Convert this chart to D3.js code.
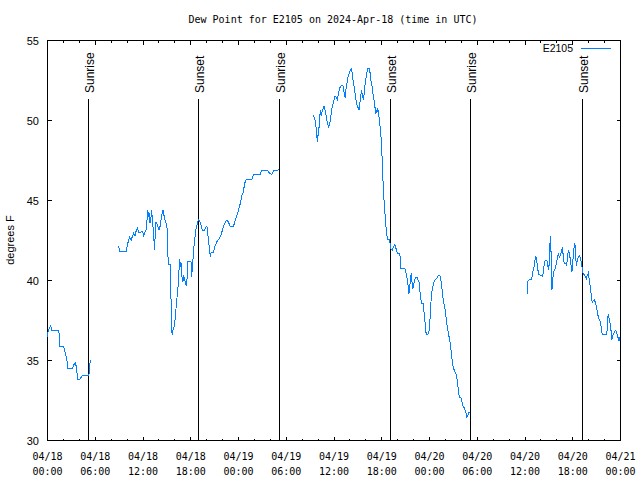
<!DOCTYPE html>
<html><head><meta charset="utf-8">
<script src="https://cdn.jsdelivr.net/npm/d3@7"></script>
<style>body{margin:0;background:#fff}svg{display:block}</style>
</head><body><svg id="c" width="640" height="480"></svg>
<script>
// hours since 2024-04-18 00:00 UTC; null marks a gap in the record
const hours = [
0.00,0.04,0.29,0.41,0.50,1.42,1.50,1.54,2.05,2.22,2.38,2.47,2.55,3.10,3.30,3.51,3.64,3.73,3.80,4.05,4.23,4.35,5.11,5.23,5.27,5.36,5.48,
7.0,
8.94,9.07,9.91,10.00,10.20,10.32,10.50,10.66,10.83,11.00,11.13,11.29,11.45,11.63,11.83,11.95,12.08,12.21,12.38,12.51,12.58,12.71,12.79,12.88,13.01,13.08,13.21,13.33,13.46,13.55,13.64,13.76,13.89,14.01,14.14,14.26,14.39,14.51,14.64,14.76,14.89,15.01,15.09,15.18,15.43,15.52,15.59,15.68,15.77,15.93,16.06,16.18,16.31,16.43,16.52,16.60,16.68,16.77,16.90,17.02,17.10,17.22,17.35,17.47,17.56,17.65,18.03,18.10,18.19,18.28,18.40,18.53,18.65,18.78,18.85,18.98,19.19,19.32,19.48,19.69,19.91,20.03,20.11,20.23,20.32,20.45,20.57,20.86,20.99,21.16,21.36,21.58,21.79,21.99,22.17,22.37,22.54,22.74,22.96,23.37,23.58,23.80,24.00,24.21,24.42,24.62,24.75,24.96,25.68,25.88,26.72,26.93,27.63,27.97,28.19,28.47,29.14,
31.0,
33.40,33.58,33.71,33.78,33.91,33.99,34.12,34.21,34.28,34.37,34.50,34.62,34.75,34.87,35.00,35.16,35.34,35.46,35.59,35.71,35.84,36.00,36.13,36.25,36.41,36.54,36.67,36.84,37.00,37.17,37.29,37.42,37.51,37.63,37.76,37.88,38.05,38.17,38.30,38.42,38.55,38.67,38.80,38.92,39.05,39.17,39.26,39.35,39.48,39.60,39.73,39.85,39.98,40.10,40.23,40.39,40.52,40.64,40.81,40.93,41.11,41.23,41.31,41.39,41.48,41.61,41.73,41.86,41.98,42.11,42.24,42.36,42.49,42.61,42.74,42.94,43.06,43.15,43.31,43.44,43.57,43.65,43.78,43.94,44.19,44.32,44.41,44.91,45.03,45.16,45.28,45.41,45.50,45.62,45.70,45.78,45.91,46.00,46.12,46.25,46.45,46.57,46.70,46.79,46.91,47.00,47.20,47.33,47.45,47.54,47.67,47.79,47.96,48.08,48.21,48.33,48.46,48.63,48.80,48.96,49.13,49.26,49.38,49.51,49.64,49.76,49.89,50.01,50.14,50.26,50.39,50.51,50.64,50.76,50.89,51.02,51.14,51.27,51.39,51.52,51.64,51.77,51.93,52.06,52.18,52.31,52.43,52.56,52.68,52.81,52.93,53.02,
56.0,
60.25,60.37,60.50,60.80,60.93,61.05,61.18,61.25,61.38,61.50,61.63,61.76,61.97,62.22,62.34,62.47,62.68,62.81,62.93,63.06,63.13,63.22,63.31,63.38,63.47,63.60,63.72,63.85,63.97,64.10,64.22,64.31,64.44,64.56,64.69,64.76,64.89,65.01,65.14,65.23,65.35,65.44,65.57,65.69,65.82,65.89,66.02,66.14,66.27,66.36,66.44,66.57,66.70,66.82,66.95,67.07,67.20,67.32,67.45,67.57,67.70,67.82,67.95,68.08,68.20,68.33,68.45,68.58,68.70,68.83,68.95,69.08,69.21,69.33,69.46,69.58,69.71,70.28,70.37,70.46,70.54,70.66,70.79,70.91,71.04,71.16,71.29,71.41,71.54,71.66,71.79,71.91,72.00
];
const dewPoint = [
36.45,36.77,37.08,37.19,36.87,36.87,36.45,35.87,35.87,35.48,35.20,34.90,34.48,34.48,34.73,34.83,34.58,34.06,33.79,33.79,33.96,34.04,34.04,34.20,34.58,34.90,35.04,
null,
42.13,41.81,41.81,42.13,42.54,42.71,42.50,42.75,42.96,42.81,43.08,43.29,43.02,42.96,43.08,43.08,42.75,42.96,43.17,43.79,44.42,44.00,44.21,43.58,44.00,44.42,43.58,42.92,41.92,43.13,43.65,43.54,43.33,43.17,43.38,43.79,44.17,44.42,44.06,43.79,43.58,43.38,42.13,41.00,41.00,38.85,36.77,36.67,36.88,37.13,37.71,38.44,39.13,39.75,40.63,41.35,40.83,41.15,40.21,39.90,40.31,40.10,39.79,39.69,40.31,41.19,41.19,40.21,40.73,41.29,42.08,42.71,43.17,43.44,43.65,43.79,43.65,43.38,43.13,43.13,43.33,43.38,43.02,42.50,42.08,41.50,41.77,41.77,42.08,42.29,42.50,42.60,42.81,43.17,43.44,43.69,43.75,43.65,43.38,43.38,43.75,44.06,44.38,44.79,45.31,45.52,46.04,46.29,46.29,46.63,46.63,46.88,46.88,46.67,46.63,46.88,46.92,
null,
50.31,50.10,49.79,49.38,48.69,49.06,49.58,50.21,50.63,50.31,50.52,50.73,50.90,50.63,50.31,49.90,49.58,49.79,50.21,50.69,50.94,51.25,51.52,51.46,51.29,51.60,51.98,52.14,52.23,52.14,51.67,51.39,51.98,52.35,52.71,52.92,53.13,53.23,52.92,52.39,52.10,51.60,51.14,50.94,50.77,50.63,51.14,51.56,51.88,51.46,51.35,52.10,52.50,52.92,53.27,53.27,53.02,52.50,52.10,51.56,51.04,50.42,50.63,50.52,50.77,50.42,49.90,49.31,48.44,46.77,45.31,44.48,43.65,42.92,42.54,42.54,42.29,41.98,41.88,42.08,42.19,42.25,42.02,41.71,41.71,41.46,40.73,40.73,40.52,40.21,39.79,39.17,39.58,40.10,40.46,40.00,39.48,39.69,40.00,40.17,40.17,40.04,39.90,39.38,38.85,38.54,38.54,37.92,37.33,36.77,36.63,36.63,36.88,37.71,38.85,39.38,39.69,40.00,40.10,40.17,40.31,40.33,40.21,39.79,39.17,38.65,38.44,38.02,37.40,37.08,36.67,36.35,35.94,35.42,34.83,34.48,34.38,34.21,34.06,33.65,33.02,32.67,32.67,32.50,32.19,32.08,31.98,31.77,31.46,31.56,31.73,31.77,
null,
39.13,39.96,40.04,40.04,40.31,40.73,40.94,41.25,41.50,41.15,40.63,40.38,40.31,40.25,40.73,41.21,41.25,41.21,40.63,41.08,42.29,42.75,41.04,39.38,40.00,40.52,40.67,40.83,41.15,41.50,41.71,41.46,41.56,41.77,42.08,41.77,41.15,41.04,41.08,40.94,41.42,41.92,41.67,41.35,40.83,40.52,41.25,41.98,42.33,41.67,40.94,41.25,41.50,41.56,41.46,41.15,40.73,40.42,40.38,40.25,40.10,40.31,40.46,40.04,39.63,39.06,38.58,38.75,38.79,38.65,38.38,38.08,37.71,37.54,37.46,37.04,36.63,36.63,37.40,37.92,37.71,37.40,36.98,36.29,36.56,36.67,36.83,36.88,36.67,36.50,36.21,36.42,36.40
];
const sunEventHours = [5.21, 19.00, 29.17, 43.09, 53.12, 67.17];
const sunEventLabels = ["Sunrise", "Sunset", "Sunrise", "Sunset", "Sunrise", "Sunset"];
const yTicks = [30, 35, 40, 45, 50, 55];
const seriesName = "E2105";
const titleText = "Dew Point for E2105 on 2024-Apr-18 (time in UTC)";
const yLabelText = "degrees F";

const t0 = Date.UTC(2024, 3, 18, 0, 0);
const toDate = h => new Date(t0 + h * 3600e3);
const L = 47.5, R = 620.5, T = 40.5, B = 440.5;
const x = d3.scaleUtc().domain([toDate(0), toDate(72)]).range([L, R]);
const y = d3.scaleLinear().domain([30, 55]).range([B, T]);
const svg = d3.select("#c");
const mono = "'DejaVu Sans Mono', monospace";
const sans = "'Liberation Sans', Arial, sans-serif";
const blue = "#0080ff";

const data = hours.map((h, i) => ({t: toDate(h), v: dewPoint[i]}));
const px = v => Math.floor(v) + 0.5;

// ticks
const g = svg.append("g").attr("stroke", "#000").attr("shape-rendering", "crispEdges");
const minor = x.ticks(d3.utcHour.every(2));
minor.forEach(d => {
  const major = d.getUTCHours() % 6 === 0;
  const len = major ? 4 : 2;
  const xx = px(x(d));
  g.append("line").attr("x1", xx).attr("x2", xx).attr("y1", B).attr("y2", B - len);
  g.append("line").attr("x1", xx).attr("x2", xx).attr("y1", T).attr("y2", T + len);
});
yTicks.forEach(v => {
  const yy = px(y(v));
  g.append("line").attr("x1", L).attr("x2", L + 4).attr("y1", yy).attr("y2", yy);
  g.append("line").attr("x1", R).attr("x2", R - 4).attr("y1", yy).attr("y2", yy);
});

// sunrise/sunset lines
sunEventHours.forEach((h, i) => {
  const xx = px(x(toDate(h)));
  g.append("line").attr("x1", xx).attr("x2", xx).attr("y1", B).attr("y2", 99);
  svg.append("text").attr("transform", `translate(${xx + 5},93) rotate(-90)`)
    .attr("font-family", sans).attr("font-size", 12).text(sunEventLabels[i]);
});

// data line
svg.append("path").datum(data)
  .attr("fill", "none").attr("stroke", blue).attr("stroke-width", 1)
  .attr("shape-rendering", "crispEdges")
  .attr("d", d3.line().defined(d => d.v !== null).x(d => x(d.t)).y(d => y(d.v)));

// frame
g.append("rect").attr("x", L).attr("y", T).attr("width", R - L).attr("height", B - T).attr("fill", "none");

// tick labels
const xMajor = x.ticks(d3.utcHour.every(6));
const fDay = d3.utcFormat("%m/%d"), fTime = d3.utcFormat("%H:%M");
xMajor.forEach(d => {
  const t = svg.append("text").attr("x", x(d)).attr("text-anchor", "middle")
    .attr("font-family", mono).attr("font-size", 10);
  t.append("tspan").attr("x", x(d)).attr("y", 460).text(fDay(d));
  t.append("tspan").attr("x", x(d)).attr("y", 475).text(fTime(d));
});
yTicks.forEach(v => {
  svg.append("text").attr("x", 39).attr("y", y(v) + 4).attr("text-anchor", "end")
    .attr("font-family", sans).attr("font-size", 11).text(v);
});

// titles
svg.append("text").attr("x", 333).attr("y", 23).attr("text-anchor", "middle")
  .attr("font-family", mono).attr("font-size", 10).text(titleText);
svg.append("text").attr("transform", "translate(14,240) rotate(-90)").attr("text-anchor", "middle")
  .attr("font-family", sans).attr("font-size", 11).text(yLabelText);

// legend
svg.append("text").attr("x", 573).attr("y", 52).attr("text-anchor", "end")
  .attr("font-family", sans).attr("font-size", 10.5).text(seriesName);
svg.append("line").attr("x1", 581).attr("x2", 611).attr("y1", 48.5).attr("y2", 48.5)
  .attr("stroke", blue).attr("shape-rendering", "crispEdges");
</script></body></html>
